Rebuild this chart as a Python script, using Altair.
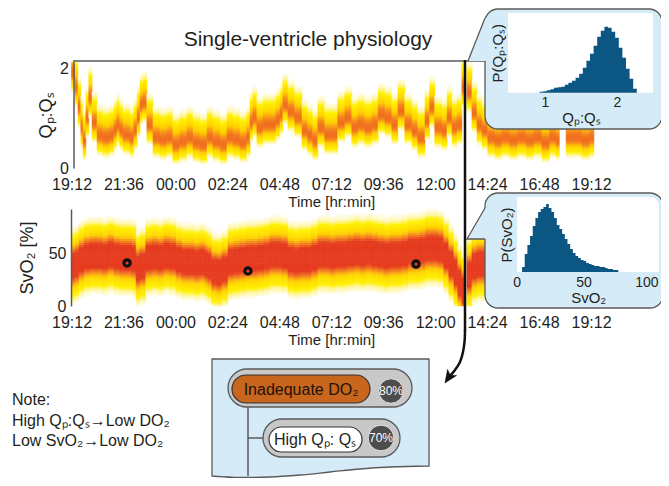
import json
import numpy as np
import pandas as pd
import altair as alt

W, H, OFF = 653, 470, 8

# ------------------------------------------------------------------ data
TITLE = "Single-ventricle physiology"
TICK_MIN = [0, 144, 288, 432, 576, 720, 864, 1008, 1152, 1296, 1440]
TICK_LABELS = ["19:12", "21:36", "00:00", "02:24", "04:48", "07:12",
               "09:36", "12:00", "14:24", "16:48", "19:12"]

# Qp:Qs trace (minutes after 19:12, central value)
QP_T1 = [0, 10, 18, 26, 32, 40, 48, 57, 71, 87,
         107, 118, 126, 134, 143, 162, 173, 182, 190, 198,
         209, 226, 245, 265, 281, 300, 320, 337, 356, 376,
         392, 412, 431, 448, 467, 486, 495, 503, 514, 531,
         550, 567, 578, 586, 600, 619, 639, 655, 669, 683,
         702, 722, 738, 758, 777, 794, 813, 833, 850, 869,
         888, 905, 924, 944, 960, 980, 993, 1007, 1027, 1041,
         1055, 1069, 1082]
QP_V1 = [1.9, 1.6, 1.2, 0.8, 0.55, 1.0, 1.4, 0.9, 0.64, 0.6,
         0.64, 0.75, 0.85, 0.75, 0.66, 0.6, 0.75, 1.0, 1.25, 1.3,
         0.86, 0.6, 0.56, 0.6, 0.46, 0.52, 0.6, 0.5, 0.46, 0.6,
         0.52, 0.46, 0.6, 0.56, 0.5, 0.6, 0.9, 1.0, 0.8, 0.86,
         0.86, 0.95, 1.06, 1.26, 1.12, 1.0, 0.74, 0.64, 0.54, 0.8,
         0.66, 0.66, 0.9, 1.0, 0.8, 0.86, 0.8, 0.86, 1.06, 1.0,
         0.86, 1.14, 0.86, 0.74, 0.6, 0.94, 1.2, 0.8, 0.74, 1.0,
         0.8, 0.86, 1.6]
QP_END1 = 1090
QP_T2 = [1096, 1110, 1124, 1138, 1154, 1174, 1193, 1215, 1237, 1260,
         1282, 1304, 1326, 1343, 1352, 1371, 1393, 1415, 1437]
QP_V2 = [1.5, 1.1, 0.85, 0.75, 0.6, 0.55, 0.6, 0.55, 0.6, 0.55,
         0.6, 0.5, 0.6, 0.55, None, 0.6, 0.6, 0.55, 0.6]
QP_END2 = 1448

# SvO2 trace
SV_T1 = [0, 10, 21, 35, 51, 68, 85, 101, 118, 134,
         151, 168, 179, 190, 206, 223, 240, 256, 273, 290,
         306, 323, 340, 356, 370, 378, 389, 403, 417, 434,
         450, 467, 484, 500, 517, 534, 550, 567, 583, 600,
         617, 633, 650, 666, 683, 700, 716, 733, 750, 766,
         783, 800, 816, 833, 850, 866, 883, 899, 916, 933,
         949, 966, 982, 999, 1016, 1032, 1046, 1060, 1071, 1082]
SV_V1 = [38, 40, 44, 47, 48, 48, 47, 49, 47, 46,
         46, 45, 36, 38, 46, 47, 46, 48, 47, 44,
         42, 42, 41, 42, 40, 38, 33, 32, 35, 42,
         43, 44, 45, 45, 46, 47, 49, 49, 48, 44,
         43, 44, 44, 46, 49, 49, 48, 49, 49, 50,
         51, 50, 51, 50, 49, 48, 49, 49, 50, 52,
         52, 53, 55, 55, 54, 48, 40, 32, 22, 15]
SV_END1 = 1090
SV_T2 = [1096, 1110, 1124, 1138]
SV_V2 = [30, 38, 40, 40]
SV_END2 = 1160

EVENT_T = [154, 489, 955]
EVENT_V = [40.8, 33.2, 39.8]

# histograms
QP_BIN = [0.95, 1.0, 1.05, 1.1, 1.15, 1.2, 1.25, 1.3, 1.35, 1.4, 1.45, 1.5, 1.55,
          1.6, 1.65, 1.7, 1.75, 1.8, 1.85, 1.9, 1.95, 2.0, 2.05, 2.1, 2.15, 2.2, 2.25]
QP_P = [1, 1.5, 2.5, 3.5, 5, 5.5, 6, 8, 10, 12, 15, 19, 25,
        32, 39, 47, 56, 62, 66, 65, 61, 55, 45, 35, 24, 14, 4]
SV_BIN = [5, 7, 9, 11, 13, 15, 17, 19, 21, 23, 25, 27, 29, 31, 33, 35, 37, 39,
          41, 43, 45, 47, 49, 51, 53, 55, 57, 59, 61, 63, 65, 67, 69, 71, 73, 75]
SV_P = [5, 18, 27, 36, 46, 54, 60, 63, 65, 68, 64, 60, 54, 47, 43, 38, 33, 28,
        23, 19, 16, 14, 12, 11, 9, 8, 7, 6, 6, 5, 5, 4, 3, 3, 2, 2]

NOTE_LINES = ["Note:", "High Qₚ:Qₛ→Low DO₂", "Low SvO₂→Low DO₂"]
NODE1 = ("Inadequate DO₂", "80%")
NODE2 = ("High Qₚ: Qₛ", "70%")

# ------------------------------------------------------------------ styles
TXT = "#231f20"
EDGE = "#5a5a5a"
INSET = "#d5ecf8"
HIST = "#0b5682"
ORANGE = "#c9661d"
HEAT = alt.Scale(domain=[0.04, 0.09, 0.15, 0.4, 0.55, 0.75],
                 range=["#fffdea", "#fff6a0", "#fff100", "#ffd000", "#f68a1f", "#e63a1f"],
                 clamp=True, interpolate="rgb")
ONE = pd.DataFrame({"k": [0]})
PX = alt.Scale(domain=[OFF, OFF + W], range=[0, W], nice=False, zero=False)
PY = alt.Scale(domain=[OFF, OFF + H], range=[0, H], nice=False, zero=False)


def P(v):
    return v - OFF


def cells(ts, vs, t_end, ybin, ymax, s_lo, s_hi, peak):
    rows = []
    edges = list(ts[1:]) + [t_end]
    ys = np.arange(0, ymax, ybin)
    for t0, t1, c in zip(ts, edges, vs):
        if c is None:
            continue
        mid = ys + ybin / 2
        s = np.where(mid > c, s_hi, s_lo)
        d = peak * np.exp(-0.5 * ((mid - c) / s) ** 2)
        for y0, dv in zip(ys, d):
            if dv >= 0.04:
                rows.append({"t": t0, "t2": t1, "y": float(y0),
                             "y2": float(min(y0 + ybin, ymax)), "d": float(dv)})
    return rows


def rect(x0, y0, x1, y1, **kw):
    return alt.Chart(ONE).mark_rect(**kw).encode(
        x=alt.value(P(x0)), x2=alt.value(P(x1)), y=alt.value(P(y0)), y2=alt.value(P(y1)))


def rule(x0, y0, x1, y1, **kw):
    return alt.Chart(ONE).mark_rule(**kw).encode(
        x=alt.value(P(x0)), x2=alt.value(P(x1)), y=alt.value(P(y0)), y2=alt.value(P(y1)))


def text(x, y, s, **kw):
    return alt.Chart(ONE).mark_text(**kw).encode(
        x=alt.value(P(x)), y=alt.value(P(y)), text=alt.value(s))


def poly(xs, ys, interp="linear", **kw):
    df = pd.DataFrame({"x": xs, "y": ys, "o": list(range(len(xs)))})
    return alt.Chart(df).mark_line(interpolate=interp, **kw).encode(
        x=alt.X("x:Q", scale=PX, axis=None), y=alt.Y("y:Q", scale=PY, axis=None),
        order="o:Q")


def fill_area(xs, ys, y2s, interp="linear", **kw):
    df = pd.DataFrame({"x": xs, "y": ys, "y2": y2s})
    return alt.Chart(df).mark_area(interpolate=interp, **kw).encode(
        x=alt.X("x:Q", scale=PX, axis=None), y=alt.Y("y:Q", scale=PY, axis=None),
        y2="y2:Q")


LABEL_EXPR = json.dumps(TICK_LABELS) + "[round(datum.value / 144)]"
X_RANGE = [P(71.5), P(591)]


def tscale():
    return alt.Scale(domain=[0, 1440], range=X_RANGE, nice=False, zero=False)


def time_axis(y_screen):
    return alt.Axis(orient="bottom", offset=P(y_screen) - H, values=TICK_MIN,
                    labelExpr=LABEL_EXPR, title="Time [hr:min]", domain=False,
                    ticks=False, grid=False, labelPadding=8, titlePadding=2,
                    labelFontSize=16, titleFontSize=15, labelFlush=False,
                    labelOverlap=False, zindex=1, labelColor=TXT, titleColor=TXT,
                    titleFontWeight="normal")


def val_axis(x_screen, values, title, tpad):
    return alt.Axis(orient="left", offset=-P(x_screen), values=values, title=title,
                    format="d", ticks=False, grid=False, domain=True, domainColor=EDGE,
                    domainWidth=1.5, labelPadding=5, titlePadding=tpad,
                    labelFontSize=16, titleFontSize=18, labelFlush=False,
                    zindex=1, labelColor=TXT, titleColor=TXT, titleFontWeight="normal")


# ------------------------------------------------------------------ heatmaps
top_df = pd.DataFrame(cells(QP_T1, QP_V1, QP_END1, 0.04, 2.12, 0.17, 0.27, 0.62)
                      + cells(QP_T2, QP_V2, QP_END2, 0.04, 2.12, 0.17, 0.27, 0.62))
bot_df = pd.DataFrame(cells(SV_T1, SV_V1, SV_END1, 2, 92, 14.5, 14.5, 1.0)
                      + cells(SV_T2, SV_V2, SV_END2, 2, 92, 14.5, 14.5, 1.0))

QP_Y = alt.Scale(domain=[0, 2.12], range=[P(168), P(62)], nice=False, zero=False)
SV_Y = alt.Scale(domain=[0, 92], range=[P(306), P(209)], nice=False, zero=False)

heat_top = alt.Chart(top_df).mark_rect(strokeWidth=0.6).encode(
    x=alt.X("t:Q", scale=tscale(), axis=time_axis(168)),
    x2="t2:Q",
    y=alt.Y("y:Q", scale=QP_Y, axis=val_axis(73.5, [0, 1, 2], "Qₚ:Qₛ", 4)),
    y2="y2:Q",
    color=alt.Color("d:Q", scale=HEAT, legend=None),
    stroke=alt.Stroke("d:Q", scale=HEAT, legend=None),
)

heat_bot = alt.Chart(bot_df).mark_rect(strokeWidth=0.6).encode(
    x=alt.X("t:Q", scale=tscale(), axis=time_axis(306)),
    x2="t2:Q",
    y=alt.Y("y:Q", scale=SV_Y, axis=val_axis(71, [0, 50], "SvO₂ [%]", 12)),
    y2="y2:Q",
    color=alt.Color("d:Q", scale=HEAT, legend=None),
    stroke=alt.Stroke("d:Q", scale=HEAT, legend=None),
)

events = alt.Chart(pd.DataFrame({"t": EVENT_T, "v": EVENT_V})).mark_point(
    shape="circle", filled=False, stroke="#111111", strokeWidth=3.2, size=40, opacity=1
).encode(
    x=alt.X("t:Q", scale=tscale(), axis=None),
    y=alt.Y("v:Q", scale=SV_Y, axis=None),
)

# ------------------------------------------------------------------ insets
def hist_frame(bins, heights, half):
    xs = [b - half for b in bins] + [bins[-1] + half]
    ps = list(heights) + [heights[-1]]
    return pd.DataFrame({"x": xs, "p": ps, "z": 0})


qp_hist = hist_frame(QP_BIN, QP_P, 0.025)
sv_hist = hist_frame(SV_BIN, SV_P, 1)


def inset_x_axis(y_screen, values, title, last_shift=0):
    return alt.Axis(orient="bottom", offset=P(y_screen) - H, values=values, title=title,
                    domain=False, ticks=False, grid=False, labelPadding=3, titlePadding=1,
                    labelFontSize=14, titleFontSize=15, labelFlush=False, zindex=1,
                    labelOffset={"condition": {"test": f"datum.value == {values[-1]}",
                                               "value": last_shift}, "value": 0},
                    labelColor=TXT, titleColor=TXT, titleFontWeight="normal")


def inset_y_axis(x_screen, title):
    return alt.Axis(orient="left", offset=-P(x_screen), title=title, labels=False,
                    domain=False, ticks=False, grid=False, titlePadding=3,
                    titleFontSize=15, zindex=1, titleColor=TXT, titleFontWeight="normal")


qp_bars = alt.Chart(qp_hist).mark_area(interpolate="step-after", color=HIST, opacity=1).encode(
    x=alt.X("x:Q", scale=alt.Scale(domain=[0.5, 2.5], range=[P(509), P(653)], nice=False, zero=False),
            axis=inset_x_axis(92.7, [1, 2], "Qₚ:Qₛ")),
    y=alt.Y("p:Q", scale=alt.Scale(domain=[0, 80], range=[P(92.7), P(12.7)], nice=False, zero=False),
            axis=inset_y_axis(508, "P(Qₚ:Qₛ)")),
    y2="z:Q",
)

sv_bars = alt.Chart(sv_hist).mark_area(interpolate="step-after", color=HIST, opacity=1).encode(
    x=alt.X("x:Q", scale=alt.Scale(domain=[0, 107], range=[P(516.7), P(659.7)], nice=False, zero=False),
            axis=inset_x_axis(272, [0, 50, 100], "SvO₂", -4)),
    y=alt.Y("p:Q", scale=alt.Scale(domain=[0, 75], range=[P(272), P(197)], nice=False, zero=False),
            axis=inset_y_axis(517, "P(SvO₂)")),
    y2="z:Q",
)

layers = [
    heat_top,
    heat_bot,
    events,
    rule(73, 61, 485, 61, color=EDGE, strokeWidth=1.5),
    # top inset
    rect(485, 9, 662, 129, cornerRadius=13, fill=INSET, stroke=EDGE, strokeWidth=1.3),
    fill_area([468, 485, 487], [61, 18, 18], [61, 61, 61], fill=INSET),
    poly([468, 485], [61, 18], color=EDGE, strokeWidth=1.3),
    rect(508, 13, 653, 92.7, fill="white"),
    qp_bars,
    # bottom inset
    rect(485, 193, 663, 308, cornerRadius=13, fill=INSET, stroke=EDGE, strokeWidth=1.3),
    fill_area([467, 485, 487], [239, 208, 208], [239, 239, 239], fill=INSET),
    poly([485, 467, 485], [208, 239, 239], color=EDGE, strokeWidth=1.3),
    rect(517, 197, 659, 272, fill="white", cornerRadiusTopRight=9),
    sv_bars,
    # time marker and arrow
    rule(465, 60, 465, 331, color="#111111", strokeWidth=2.5),
    poly([465, 464.6, 463, 460, 455, 449], [330, 341, 352, 362, 370, 377],
         interp="catmull-rom", color="#111111", strokeWidth=2.5),
    alt.Chart(ONE).mark_point(shape="M0,1 L-0.75,-0.75 L0,-0.3 L0.75,-0.75 Z", filled=True,
                              fill="#111111", stroke="#111111", strokeWidth=0.5,
                              size=210, angle=34, opacity=1).encode(
        x=alt.value(P(449)), y=alt.value(P(377))),
    # decision tree box
    fill_area([212, 240, 270, 300, 330, 360, 390, 429], [359] * 8,
              [476, 477.5, 477, 475, 472, 469, 467, 466], interp="monotone",
              fill=INSET, stroke=EDGE, strokeWidth=1.3),
    rule(248, 407, 248, 476, color=EDGE, strokeWidth=1.5),
    rule(248, 438, 264, 438, color=EDGE, strokeWidth=1.5),
    rect(228, 369, 412, 407, cornerRadius=19, fill="#c8c8c8", stroke=EDGE, strokeWidth=1.3),
    rect(232, 375, 370, 403, cornerRadius=14, fill=ORANGE, stroke="#333333", strokeWidth=1.2),
    alt.Chart(ONE).mark_circle(size=600, fill="#4d4d4d", stroke="#e0e0e0", strokeWidth=1, opacity=1).encode(
        x=alt.value(P(391)), y=alt.value(P(391))),
    text(301, 390, NODE1[0], fontSize=16, color="#1e1208", baseline="middle"),
    text(391, 391, NODE1[1], fontSize=12, color="white", baseline="middle"),
    rect(263, 419, 400, 457, cornerRadius=19, fill="#c8c8c8", stroke=EDGE, strokeWidth=1.3),
    rect(269, 427, 362, 452, cornerRadius=12.5, fill="white", stroke="#333333", strokeWidth=1.2),
    alt.Chart(ONE).mark_circle(size=660, fill="#4d4d4d", stroke="#e0e0e0", strokeWidth=1, opacity=1).encode(
        x=alt.value(P(381)), y=alt.value(P(438))),
    text(315, 440, NODE2[0], fontSize=16, color=TXT, baseline="middle"),
    text(381, 438, NODE2[1], fontSize=12, color="white", baseline="middle"),
    # title and note
    text(308, 40, TITLE, fontSize=21, color=TXT, baseline="middle"),
]
for i, line in enumerate(NOTE_LINES):
    layers.append(text(12, 400 + 20.5 * i, line, fontSize=16, color=TXT,
                       align="left", baseline="middle"))

chart = alt.layer(*layers).resolve_scale(
    x="independent", y="independent", color="independent", stroke="independent"
).resolve_axis(x="independent", y="independent").properties(
    width=W, height=H, autosize=alt.AutoSizeParams(type="none"), padding=0
).configure(font="Liberation Sans").configure_view(stroke=None).configure_axis(grid=False)

chart.save("out.html", embed_options={"renderer": "svg", "actions": False})
